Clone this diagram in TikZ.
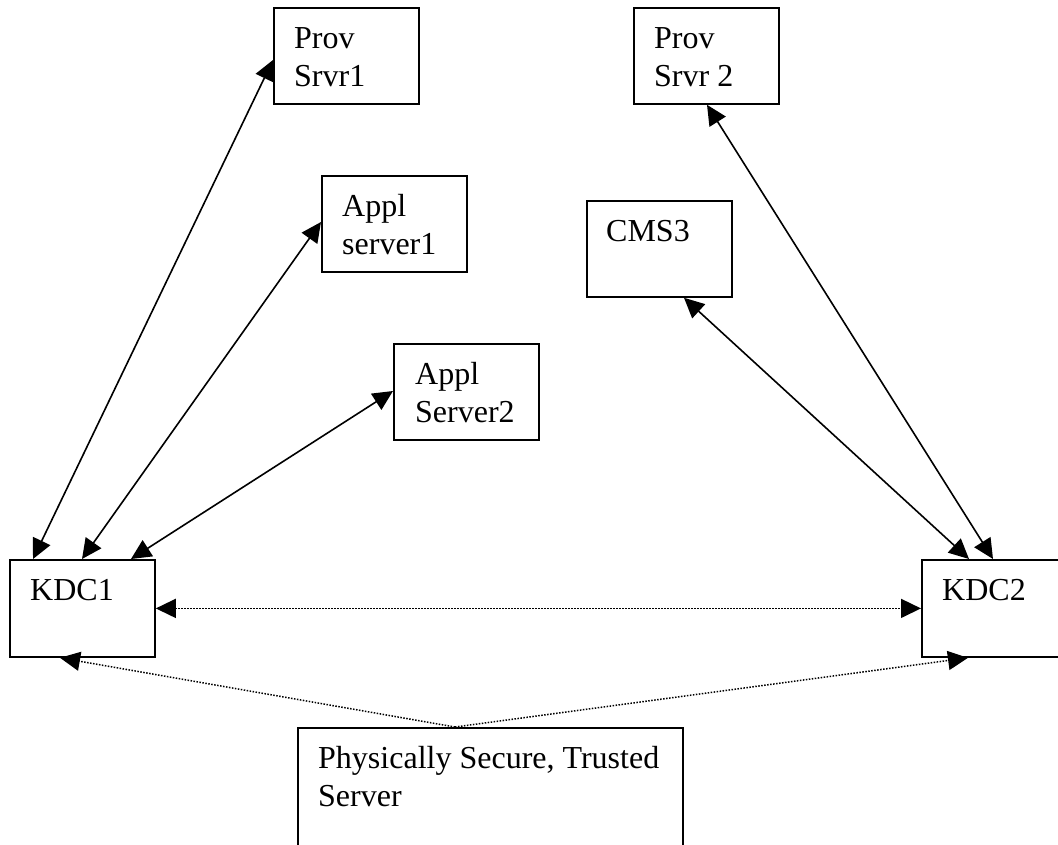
\documentclass[tikz,border=0pt]{standalone}
\usepackage{fontspec}
\setmainfont{Liberation Serif}
\usetikzlibrary{arrows.meta,positioning}

\tikzset{
  srvbox/.style={draw, fill=white, line width=1.8pt, minimum width=145pt,
    minimum height=96pt, anchor=north west, inner sep=0pt},
  srvtext/.style={anchor=north west, inner sep=0pt, align=left,
    font=\fontsize{32}{38}\selectfont},
  link/.style={line width=1.6pt, <->},
  dotlink/.style={line width=1.5pt, dash pattern=on 1.5pt off 1.5pt},
}

\begin{document}
\begin{tikzpicture}[x=1pt,y=-1pt,>={Triangle[length=20pt,width=19pt]}]

% Page frame
\useasboundingbox (0,0) rectangle (1058,845);
\clip (0,0) rectangle (1058,845);

% ===== SERVER BOXES =====
\node[srvbox] (prov1) at (273,7) {};
\node[srvtext] (prov1txt) at ([shift={(21,20)}]prov1.north west) {Prov\\Srvr1};

\node[srvbox] (prov2) at (633,7) {};
\node[srvtext] (prov2txt) at ([shift={(21,20)}]prov2.north west) {Prov\\Srvr 2};

\node[srvbox] (appl1) at (321,175) {};
\node[srvtext] (appl1txt) at ([shift={(21,19)}]appl1.north west) {Appl\\server1};

\node[srvbox] (cms3) at (586,200) {};
\node[srvtext] (cms3txt) at ([shift={(20,20)}]cms3.north west) {CMS3};

\node[srvbox] (appl2) at (393,343) {};
\node[srvtext] (appl2txt) at ([shift={(22,19)}]appl2.north west) {Appl\\Server2};

% ===== KDCs =====
\node[srvbox, minimum height=97pt] (kdc1) at (9,559) {};
\node[srvtext] (kdc1txt) at ([shift={(21,20)}]kdc1.north west) {KDC1};

\node[srvbox, minimum height=97pt] (kdc2) at (921,559) {};
\node[srvtext] (kdc2txt) at ([shift={(21,20)}]kdc2.north west) {KDC2};

% Trusted server (runs off the bottom)
\node[srvbox, minimum width=385pt, minimum height=150pt] (trusted) at (297,727) {};
\node[srvtext] (trustedtxt) at ([shift={(21,19)}]trusted.north west)
  {Physically Secure, Trusted\\Server};

% ===== LINKS =====
% KDC1 side
\draw[link] ([shift={(24,0)}]kdc1.north west) -- ([shift={(0,53)}]prov1.north west);
\draw[link] ([shift={(73,0)}]kdc1.north west) -- ([shift={(0,47)}]appl1.north west);
\draw[link] ([shift={(122,0)}]kdc1.north west) -- ([shift={(0,48)}]appl2.north west);

% KDC2 side
\draw[link] ([shift={(48,0)}]kdc2.north west) -- ([shift={(98,0)}]cms3.south west);
\draw[link] ([shift={(72,0)}]kdc2.north west) -- ([shift={(74,0)}]prov2.south west);

% KDC1 <-> KDC2
\draw[dotlink, <->] (kdc1.east) -- (kdc2.west);

% Trusted server to both KDCs
\coordinate (apex) at ([shift={(158,0)}]trusted.north west);
\draw[dotlink, ->] (apex) -- ([shift={(51,0)}]kdc1.south west);
\draw[dotlink, ->] (apex) -- ([shift={(47,0)}]kdc2.south west);

\end{tikzpicture}
\end{document}
